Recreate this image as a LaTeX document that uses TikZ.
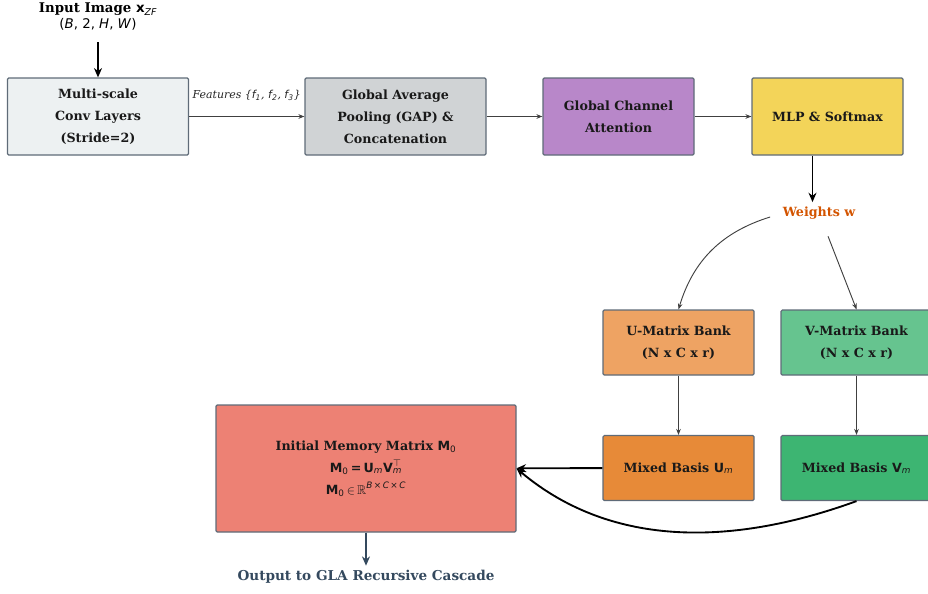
\documentclass[tikz,border=0pt]{standalone}
\usepackage{fontspec}
\usepackage{amssymb}
\setmainfont{DejaVu Serif}
\setsansfont{DejaVu Sans}
\usetikzlibrary{arrows.meta}

\definecolor{convfill}{HTML}{EDF1F2}
\definecolor{gapfill}{HTML}{D0D3D5}
\definecolor{gcafill}{HTML}{B887C9}
\definecolor{mlpfill}{HTML}{F3D459}
\definecolor{ubankfill}{HTML}{EEA363}
\definecolor{vbankfill}{HTML}{66C48F}
\definecolor{mixufill}{HTML}{E78A38}
\definecolor{mixvfill}{HTML}{3DB572}
\definecolor{initfill}{HTML}{ED8174}
\definecolor{boxedge}{HTML}{5F6B78}
\definecolor{wcol}{HTML}{D35400}
\definecolor{outcol}{HTML}{34495E}

\newcommand{\bsf}[1]{{\sffamily\bfseries #1}}
\newcommand{\subsf}[1]{\textsubscript{\sffamily\mdseries #1}}
\newcommand{\subit}[1]{\textsubscript{\sffamily\mdseries\itshape #1}}

\begin{document}
\begin{tikzpicture}[x=0.75pt,y=-0.75pt,
  box/.style={draw=boxedge,line width=0.9pt,rounded corners=1pt,align=center,
    text=black!90,font=\fontsize{9.5}{16.5}\selectfont\bfseries},
  widebox/.style={box,minimum width=135.75pt,minimum height=57.75pt},
  midbox/.style={box,minimum width=113.25pt,minimum height=57.75pt},
  lowbox/.style={box,minimum width=113.25pt,minimum height=48.75pt},
  flow/.style={->,>={Stealth[length=4.5pt,width=3.5pt]},draw=black!75,line width=0.7pt},
  bigflow/.style={->,>={Stealth[length=7pt,width=6pt]},draw=black,line width=1.4pt}]
\clip (0,0) rectangle (928,593);

\node[align=center,font=\fontsize{10}{12}\selectfont] (input) at (98,17)
  {\textbf{Input Image \bsf{x}\subit{ZF}}\\{\sffamily(\textit{B}, 2, \textit{H}, \textit{W})}};

\node[widebox,fill=convfill] (conv) at (98,116.5) {Multi-scale\\Conv Layers\\(Stride=2)};
\node[widebox,fill=gapfill] (gap) at (395.5,116.5) {Global Average\\Pooling (GAP) \&\\Concatenation};
\node[midbox,fill=gcafill] (gca) at (618.5,116.5) {Global Channel\\Attention};
\node[midbox,fill=mlpfill] (mlp) at (827.5,116.5) {MLP \& Softmax};

\node[text=wcol,font=\fontsize{9.5}{11}\selectfont\bfseries] (weights) at (819,213) {Weights w};

\node[lowbox,fill=ubankfill] (ubank) at (678.5,342.5) {U-Matrix Bank\\(N x C x r)};
\node[lowbox,fill=vbankfill] (vbank) at (856.5,342.5) {V-Matrix Bank\\(N x C x r)};
\node[lowbox,fill=mixufill] (mixu) at (678.5,468) {Mixed Basis \bsf{U}\subit{m}};
\node[lowbox,fill=mixvfill] (mixv) at (856.5,468) {Mixed Basis \bsf{V}\subit{m}};

\node[box,fill=initfill,minimum width=225pt,minimum height=95.25pt] (init) at (366,468.5)
  {Initial Memory Matrix \bsf{M}\subsf{0}\\
   \bsf{M}\subsf{0}\,{\sffamily =}\,\bsf{U}\subit{m}\bsf{V}\rlap{\textsuperscript{\mdseries$\top$}}\subit{m}\\
   \bsf{M}\subsf{0}\,{\mdseries$\in$\,$\mathbb{R}$}\textsuperscript{\sffamily\itshape\mdseries B\,×\,C\,×\,C}};

\node[text=outcol,font=\fontsize{10.2}{12}\selectfont\bfseries] (output) at (366,577) {Output to GLA Recursive Cascade};

\coordinate (mlpout) at ([xshift=-11.25pt]mlp.south);

% top row
\path [bigflow] (input) edge[shorten <=5pt] (conv);
\path [flow] (conv) edge node[above=8pt,text=black!85,font=\fontsize{8.2}{9}\selectfont\itshape]
  {Features \{\textsf{f}\subsf{1}, \textsf{f}\subsf{2}, \textsf{f}\subsf{3}\}} (gap);
\path [flow] (gap) edge (gca);
\path [flow] (gca) edge (mlp);
\draw [bigflow,line width=1.1pt] (mlpout) -- (mlpout |- weights.north);

% weights to the banks
\draw [flow] ([xshift=-6pt,yshift=-3pt]weights.west) to[bend right=28] (ubank.north);
\path [flow] (weights) edge[shorten <=10pt] (vbank.north);
\path [flow] (ubank) edge (mixu);
\path [flow] (vbank) edge (mixv);

% mixing into the memory matrix
\path [bigflow] (mixu) edge (init);
\draw [bigflow] (mixv.south) to[out=200,in=-40,looseness=0.95] (init.east);
\path [bigflow,draw=outcol,line width=1.1pt] (init) edge (output);

\end{tikzpicture}
\end{document}
